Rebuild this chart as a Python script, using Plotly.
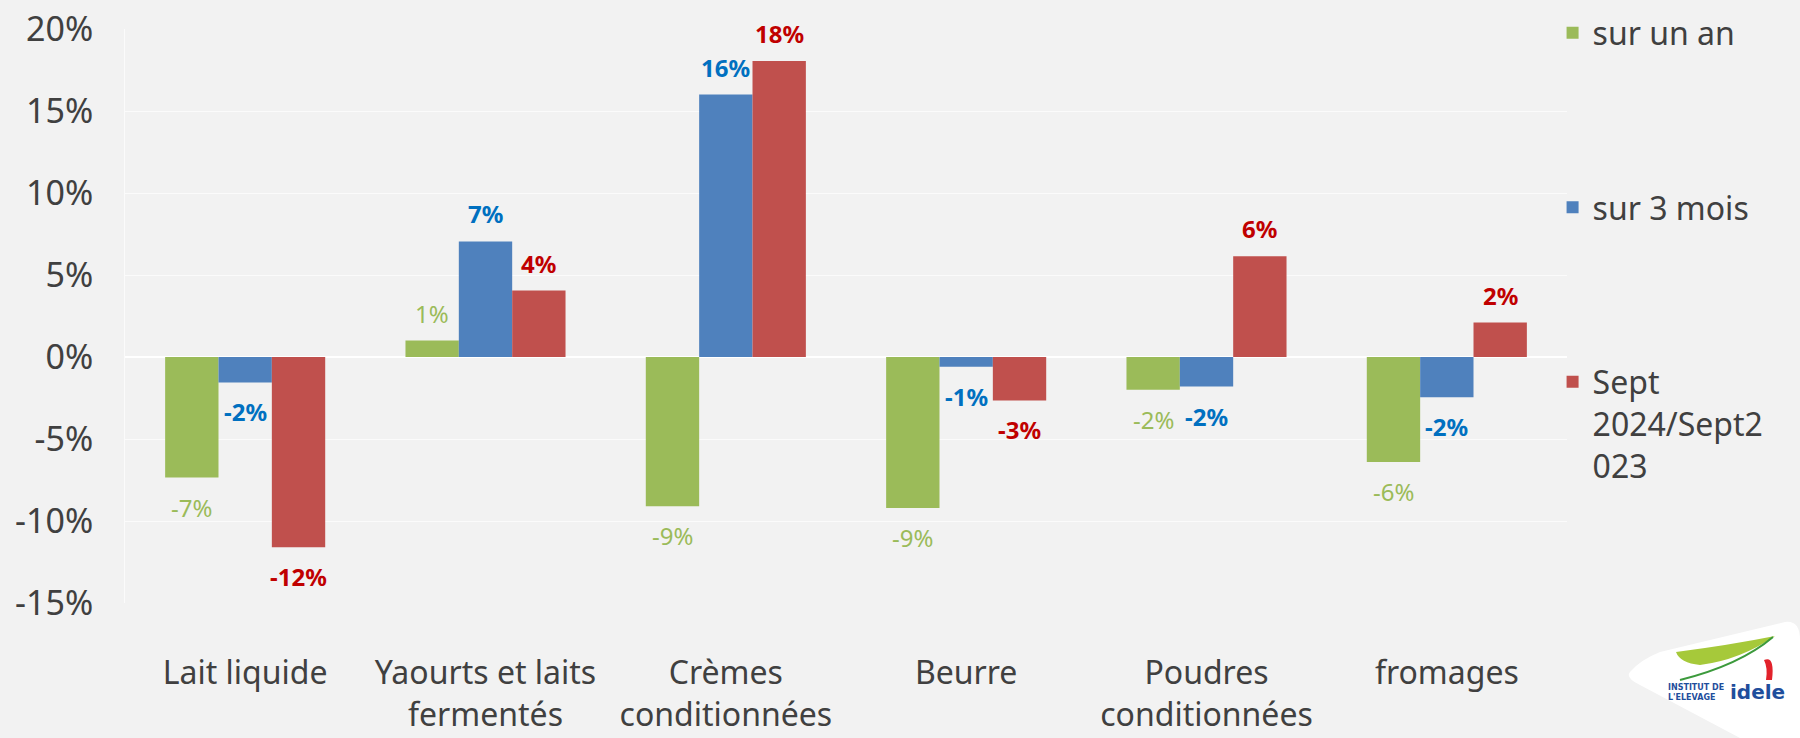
import plotly.graph_objects as go

# ---------------- data ----------------
categories = ["Lait liquide", "Yaourts et laits<br>fermentés", "Crèmes<br>conditionnées",
              "Beurre", "Poudres<br>conditionnées", "fromages"]
series_names = ["sur un an", "sur 3 mois", "Sept<br>2024/Sept2<br>023"]
sur_un_an = [-7.35, 1.0, -9.1, -9.2, -2.0, -6.4]
sur_3_mois = [-1.55, 7.05, 16.0, -0.6, -1.8, -2.45]
sept_2024_sept_2023 = [-11.6, 4.05, 18.05, -2.65, 6.15, 2.1]
y_tick_values = [-15, -10, -5, 0, 5, 10, 15, 20]
y_tick_labels = ["-15%", "-10%", "-5%", "0%", "5%", "10%", "15%", "20%"]

# ---------------- styles ----------------
bar_colors = ["#9BBB59", "#4F81BD", "#C0504D"]
label_colors = ["#9BBB59", "#0070C0", "#C00000"]
label_weights = ["normal", "bold", "bold"]
FONT = "Noto Sans"
TXT = "#404040"
W, H = 1800, 738
ML, MR, MT, MB = 125, 233, 29, 135
BARGAP = 0.334

all_series = [sur_un_an, sur_3_mois, sept_2024_sept_2023]

fig = go.Figure()
for name, vals, col, grp in zip(series_names, all_series, bar_colors, ["a", "b", "c"]):
    fig.add_trace(go.Bar(
        x=categories, y=vals, name=name, marker=dict(color=col, line=dict(width=0)),
        legendgroup=grp, hoverinfo="x+y",
    ))

# data labels (placed from the data values)
plot_w = W - ML - MR
plot_h = H - MT - MB
cat_px = plot_w / len(categories)
bar_px = cat_px * (1 - BARGAP) / 3
for j, vals in enumerate(all_series):
    for cat, v in zip(categories, vals):
        fig.add_annotation(
            x=cat, y=v, xref="x", yref="y", text=f"{round(v)}%", showarrow=False,
            xshift=(j - 1) * bar_px, yshift=9 if v >= 0 else -11,
            yanchor="bottom" if v >= 0 else "top",
            font=dict(family=FONT, size=24, color=label_colors[j], weight=label_weights[j]),
        )

# logo (decorative)
def px(xp):
    return (xp - ML) / plot_w
def py(yp):
    return (H - MB - yp) / plot_h

fig.add_shape(type="path", xref="paper", yref="paper",
              path=f"M {px(1630)},{py(672)} Q {px(1640)},{py(660)} {px(1660)},{py(652)} "
                   f"L {px(1785)},{py(622)} Q {px(1800)},{py(620)} {px(1800)},{py(640)} "
                   f"L {px(1800)},{py(738)} L {px(1740)},{py(738)} "
                   f"L {px(1640)},{py(685)} Q {px(1625)},{py(678)} {px(1630)},{py(672)} Z",
              fillcolor="white", line=dict(width=0), layer="below")
fig.add_shape(type="path", xref="paper", yref="paper",
              path=f"M {px(1676)},{py(652)} Q {px(1730)},{py(645)} {px(1775)},{py(636)} "
                   f"Q {px(1740)},{py(660)} {px(1700)},{py(665)} Q {px(1680)},{py(663)} {px(1676)},{py(652)} Z",
              fillcolor="#A6C93A", line=dict(width=0))
fig.add_shape(type="path", xref="paper", yref="paper",
              path=f"M {px(1680)},{py(680)} Q {px(1740)},{py(665)} {px(1773)},{py(637)}",
              line=dict(color="#3C9A3C", width=2))
fig.add_shape(type="path", xref="paper", yref="paper",
              path=f"M {px(1764)},{py(660)} Q {px(1775)},{py(655)} {px(1772)},{py(680)} "
                   f"L {px(1766)},{py(680)} Q {px(1768)},{py(668)} {px(1764)},{py(660)} Z",
              fillcolor="#E2222B", line=dict(width=0))
fig.add_annotation(xref="paper", yref="paper", x=px(1726), y=py(692), xanchor="right",
                   yanchor="middle", showarrow=False, align="left",
                   text="INSTITUT DE<br>L'ELEVAGE",
                   font=dict(family="DejaVu Sans", size=8, color="#1F4E9C", weight="bold"))
fig.add_annotation(xref="paper", yref="paper", x=px(1728), y=py(692), xanchor="left",
                   yanchor="middle", showarrow=False, text="idele",
                   font=dict(family="DejaVu Sans", size=20, color="#1F4E9C", weight="bold"))

fig.update_layout(
    width=W, height=H,
    margin=dict(l=ML, r=MR, t=MT, b=MB, pad=0, autoexpand=False),
    paper_bgcolor="#F2F2F2", plot_bgcolor="#F2F2F2",
    barmode="group", bargap=BARGAP, bargroupgap=0,
    font=dict(family=FONT, color=TXT),
    showlegend=True,
    legend=dict(x=0.990, y=0.617, xanchor="left", yanchor="middle",
                font=dict(family=FONT, size=32, color=TXT),
                bgcolor="rgba(0,0,0,0)", tracegroupgap=130, valign="top",
                itemclick=False, itemdoubleclick=False),
    xaxis=dict(showgrid=False, zeroline=False, showline=False, ticks="", automargin=False,
               tickfont=dict(family=FONT, size=32, color=TXT), ticklabelstandoff=48),
    yaxis=dict(range=[-15, 20], tickvals=y_tick_values, ticktext=y_tick_labels, automargin=False,
               showgrid=True, gridcolor="#FBFBFB", gridwidth=1,
               zeroline=True, zerolinecolor="#FFFFFF", zerolinewidth=1.5,
               showline=True, linecolor="#FBFBFB", linewidth=1, ticks="",
               tickfont=dict(family=FONT, size=34, color=TXT), ticklabelstandoff=24),
)

fig.write_html("out.html", config={"displayModeBar": False},
               post_script="document.body.style.margin='0';document.body.style.overflow='hidden';")
